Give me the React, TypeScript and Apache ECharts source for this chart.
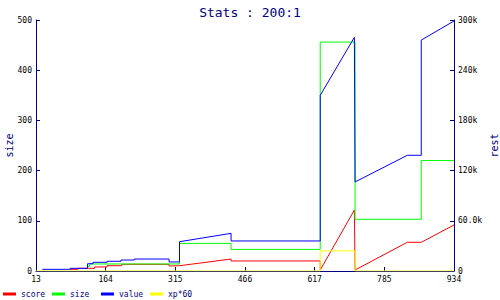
import React, { useEffect, useRef } from "react";
import * as echarts from "echarts";

const chartTitle = "Stats : 200:1";
const xTickLabels = ["13", "164", "315", "466", "617", "785", "934"];
const rightTickLabels = ["0", "60.0k", "120k", "180k", "240k", "300k"];
const seriesNames = ["score", "size", "value", "xp*60"];
const seriesColors = ["#ff0000", "#00ff00", "#0000ff", "#ffff00"];

// x positions are in tick-slot units (0 = "13" ... 6 = "934")
const scoreX = [0.49, 0.6, 0.6, 0.84, 0.84, 1.02, 1.02, 1.23, 1.23, 1.91, 1.91, 2.06, 2.8, 2.8, 4.08, 4.08, 4.57, 4.58, 5.33, 5.53, 6.0];
const scoreY = [2000, 2000, 3200, 3200, 4800, 4800, 6300, 6300, 8000, 8000, 6000, 6300, 14300, 12000, 12000, 1200, 72900, 1200, 34300, 34300, 55000];

const sizeX = [0.74, 0.77, 0.77, 2.06, 2.06, 2.8, 2.8, 4.08, 4.08, 4.58, 4.58, 5.53, 5.53, 6.0];
const sizeY = [9, 9, 14, 14, 55, 55, 43, 43, 456, 456, 103, 103, 220, 220];

const valueX = [0.09, 0.49, 0.49, 0.74, 0.74, 0.82, 0.82, 1.02, 1.02, 1.22, 1.22, 1.41, 1.41, 1.91, 1.91, 2.06, 2.06, 2.8, 2.8, 4.08, 4.08, 4.57, 4.58, 4.58, 5.33, 5.53, 5.53, 6.0];
const valueY = [2000, 2000, 3200, 3200, 8700, 8700, 10400, 10400, 11600, 11600, 13100, 13100, 14300, 14300, 10800, 10800, 35000, 45000, 35900, 35900, 210000, 279300, 279300, 106400, 138300, 138300, 276000, 298800];

const xpX = [0, 4.08, 4.08, 4.58, 4.58, 6.0];
const xpY = [0, 0, 24000, 24000, 0, 0];

const zip = (xs: number[], ys: number[]) => xs.map((x, i) => [x, ys[i]]);

const NAVY = "#000080";
const FONT = "DejaVu Sans Mono";

export default function App() {
  const ref = useRef<HTMLDivElement>(null);
  useEffect(() => {
    if (!ref.current) return;
    const chart = echarts.init(ref.current, null, { renderer: "svg" });
    const datasets = [zip(scoreX, scoreY), zip(sizeX, sizeY), zip(valueX, valueY), zip(xpX, xpY)];
    const axisIdx = [1, 0, 1, 1];
    const legendLefts = [1, 50, 99, 148];
    chart.setOption({
      animation: false,
      backgroundColor: "#ffffff",
      title: {
        text: chartTitle,
        left: "center",
        top: 1,
        textStyle: { color: NAVY, fontFamily: FONT, fontSize: 13, fontWeight: "normal" },
      },
      legend: seriesNames.map((n, i) => ({
        data: [n],
        left: legendLefts[i],
        top: 288,
        padding: 2,
        icon: "rect",
        itemWidth: 13,
        itemHeight: 3,
        itemGap: 0,
        textStyle: { color: NAVY, fontFamily: FONT, fontSize: 8 },
      })),
      grid: { left: 36, right: 46, top: 20, bottom: 29, outerBoundsMode: "none", containLabel: false },
      xAxis: {
        type: "value",
        min: 0,
        max: 6,
        interval: 1,
        axisLine: { show: true, lineStyle: { color: NAVY, width: 1 } },
        axisTick: { show: true, inside: true, length: 4, lineStyle: { color: NAVY } },
        splitLine: { show: false },
        axisLabel: {
          color: "#000",
          fontFamily: FONT,
          fontSize: 8,
          margin: 4,
          formatter: (v: number) => xTickLabels[Math.round(v)] ?? "",
        },
      },
      yAxis: [
        {
          type: "value",
          min: 0,
          max: 500,
          interval: 100,
          name: "size",
          nameLocation: "middle",
          nameRotate: 90,
          nameGap: 22,
          nameMoveOverlap: false,
          nameTextStyle: { color: NAVY, fontFamily: FONT, fontSize: 10 },
          axisLine: { show: true, lineStyle: { color: NAVY, width: 1 } },
          axisTick: { show: true, inside: true, length: 4, lineStyle: { color: NAVY } },
          splitLine: { show: false },
          axisLabel: { color: "#000", fontFamily: FONT, fontSize: 8, margin: 4 },
        },
        {
          type: "value",
          min: 0,
          max: 300000,
          interval: 60000,
          position: "right",
          name: "rest",
          nameLocation: "middle",
          nameRotate: 90,
          nameGap: 35,
          nameMoveOverlap: false,
          nameTextStyle: { color: NAVY, fontFamily: FONT, fontSize: 10 },
          axisLine: { show: true, lineStyle: { color: NAVY, width: 1 } },
          axisTick: { show: true, inside: true, length: 4, lineStyle: { color: NAVY } },
          splitLine: { show: false },
          axisLabel: {
            color: "#000",
            fontFamily: FONT,
            fontSize: 8,
            margin: 4,
            formatter: (v: number) => rightTickLabels[Math.round(v / 60000)] ?? "",
          },
        },
      ],
      series: seriesNames.map((n, i) => ({
        name: n,
        type: "line",
        yAxisIndex: axisIdx[i],
        data: datasets[i],
        showSymbol: false,
        symbol: "none",
        color: seriesColors[i],
        lineStyle: { color: seriesColors[i], width: 1 },
        itemStyle: { color: seriesColors[i] },
        z: 3 + i,
      })),
    });
    return () => chart.dispose();
  }, []);
  return (
    <div
      ref={ref}
      style={{ position: "fixed", left: 0, top: 0, width: 500, height: 300, background: "#fff" }}
    />
  );
}
